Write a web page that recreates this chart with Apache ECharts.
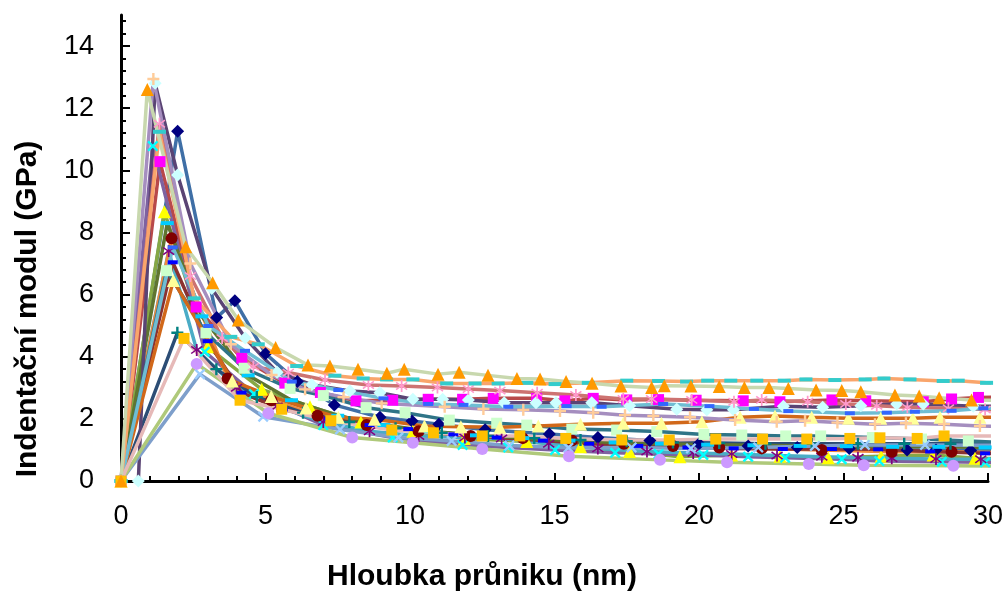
<!DOCTYPE html>
<html>
<head>
<meta charset="utf-8">
<script src="https://cdn.jsdelivr.net/npm/echarts@6/dist/echarts.min.js"></script>
<style>
  html, body { margin: 0; padding: 0; background: #fff; }
  #chart { width: 1007px; height: 595px; }
</style>
</head>
<body>
<div id="chart"></div>
<script>
// Axis titles and tick labels
const xTitle = 'Hloubka průniku (nm)';
const yTitle = 'Indentační modul (GPa)';
const yTickLabels = [0, 2, 4, 6, 8, 10, 12, 14];

// Indentation curves: [depth (nm), modulus (GPa)]
const s01 = [[0,0],[1.96,11.26],[3.31,5.26],[3.94,5.8],[5.0,4.1],[6.1,3.2],[7.38,2.45],[8.96,2.05],[10.07,1.93],[11.0,1.83],[12.6,1.65],[14.82,1.51],[16.5,1.4],[18.3,1.3],[20.0,1.2],[21.7,1.13],[23.4,1.08],[25.2,1.05],[27.2,1.0],[28.2,1.0],[29.4,0.98],[31,0.96]];
const s02 = [[0,0],[1.35,10.28],[2.6,5.6],[4.18,3.95],[5.67,3.15],[6.9,2.85],[8.13,2.58],[9.4,2.6],[10.63,2.63],[11.82,2.63],[12.88,2.66],[14.38,2.66],[15.36,2.58],[16.34,2.66],[17.5,2.61],[18.6,2.62],[19.9,2.6],[21.53,2.58],[22.8,2.55],[24.6,2.61],[25.77,2.58],[27.76,2.55],[28.74,2.64],[29.67,2.69],[31,2.7]];
const s03 = [[0,0],[1.5,8.67],[2.99,4.32],[4.87,2.95],[6.54,2.39],[8.3,1.9],[10.1,1.6],[11.88,1.37],[14.04,1.27],[15.9,1.1],[17.6,0.95],[19.34,0.78],[21.13,0.84],[22.8,0.8],[24.47,0.75],[26.3,0.8],[28.1,0.84],[29.55,0.73],[31,0.72]];
const s04 = [[0,0],[1.1,10.78],[2.9,4.16],[4.6,2.8],[7.0,1.8],[9.4,1.4],[11.82,1.16],[13.4,1.08],[15.02,1.0],[17.1,0.91],[18.6,0.87],[20.15,0.84],[21.7,0.78],[22.98,0.75],[24.94,0.7],[26.24,0.64],[28.4,0.62],[29.9,0.6],[31,0.6]];
const s05 = [[0,0],[1.65,7.4],[2.62,4.22],[4.0,3.0],[5.4,2.4],[7.0,1.9],[8.6,1.6],[10.3,1.45],[11.9,1.4],[13.17,1.37],[14.8,1.2],[16.5,1.05],[18.2,0.95],[19.8,0.9],[21.13,0.87],[22.7,0.82],[24.25,0.78],[25.5,0.75],[26.67,0.73],[28.2,0.71],[29.75,0.7],[31,0.69]];
const s06 = [[0,0],[1.75,7.81],[3.69,3.3],[5.2,2.6],[6.8,2.1],[8.5,1.8],[10.3,1.6],[12.1,1.45],[13.9,1.38],[15.6,1.3],[17.4,1.2],[19.1,1.13],[20.7,1.08],[22.17,1.05],[24.25,1.0],[26.67,0.94],[28.74,0.94],[31,0.9]];
const s07 = [[0,0],[1.95,4.77],[3.3,3.6],[4.7,2.7],[6.3,2.2],[7.9,1.9],[9.5,1.7],[11.1,1.55],[12.7,1.45],[14.3,1.38],[15.9,1.32],[17.5,1.28],[19.1,1.24],[20.7,1.22],[22.3,1.2],[23.9,1.2],[25.5,1.2],[27.1,1.2],[28.7,1.2],[31,1.19]];
const s08 = [[0,0],[1.79,7.04],[3.0,4.5],[4.17,2.84],[5.6,2.3],[7.2,2.0],[8.6,1.8],[9.94,1.67],[11.5,1.5],[13.0,1.4],[14.6,1.3],[16.2,1.2],[17.9,1.13],[19.6,1.08],[21.2,1.05],[22.9,1.03],[24.6,1.03],[26.2,1.02],[28.0,0.95],[29.9,0.89],[31,0.88]];
const s09 = [[0,0],[1.6,8.3],[2.8,5.3],[4.4,3.4],[5.9,2.6],[7.5,2.1],[9.1,1.8],[10.7,1.6],[12.3,1.47],[13.9,1.38],[15.5,1.3],[17.1,1.24],[18.7,1.2],[20.3,1.17],[21.9,1.15],[23.5,1.13],[25.1,1.12],[26.7,1.1],[28.3,1.1],[29.9,1.08],[31,1.07]];
const s10 = [[0.6,0],[1.18,12.8],[1.96,9.85],[3.14,6.2],[4.3,4.6],[5.4,3.5],[6.6,3.1],[7.92,2.9],[8.96,2.84],[10.1,2.63],[11.13,2.63],[12.02,2.61],[13.26,2.52],[14.36,2.52],[15.05,2.52],[16.29,2.52],[17.6,2.42],[19.23,2.31],[20.27,2.29],[21.19,2.29],[22.92,2.41],[24.28,2.37],[25.6,2.42],[26.84,2.48],[27.76,2.48],[29.49,2.41],[31,2.4]];
const s11 = [[0,0],[1.58,6.77],[2.94,4.77],[4.26,3.63],[5.85,2.98],[7.0,2.75],[8.48,2.36],[9.83,2.2],[11.36,1.96],[13.0,1.86],[14.04,1.8],[15.6,1.67],[17.15,1.64],[18.54,1.59],[20.17,1.5],[21.48,1.48],[23.0,1.45],[24.21,1.45],[26.0,1.4],[27.7,1.35],[29.32,1.29],[31,1.22]];
const s12 = [[0,0],[1.81,6.45],[3.85,3.22],[5.2,2.72],[6.4,2.35],[7.52,2.05],[8.77,1.99],[10.5,1.77],[11.76,1.75],[13.11,1.73],[14.44,1.77],[15.9,1.83],[17.38,1.86],[18.7,1.86],[20.1,1.91],[21.42,2.05],[22.63,2.09],[23.9,2.05],[25.17,2.02],[26.29,2.02],[27.4,2.02],[28.34,2.05],[29.72,2.05],[31,2.06]];
const s13 = [[0,0],[2.73,3.44],[4.92,2.07],[7.58,1.66],[9.6,1.4],[11.44,1.29],[13.44,1.14],[15.48,1.07],[17.67,1.08],[19.72,1.05],[22.05,1.08],[24.01,1.13],[25.74,1.16],[27.82,1.16],[30.2,1.15]];
const s14 = [[0,0],[1.33,11.5],[2.4,6.6],[3.5,4.6],[4.58,3.68],[5.79,3.49],[7.06,3.25],[8.56,3.09],[9.71,3.06],[10.95,3.01],[12.02,2.96],[13.11,2.91],[14.4,2.84],[15.74,2.77],[17.38,2.64],[18.36,2.64],[19.75,2.61],[21.21,2.55],[22.17,2.61],[23.76,2.55],[25.08,2.48],[26.15,2.42],[27.21,2.37],[28.63,2.34],[29.9,2.3],[31,2.28]];
const s15 = [[0,0],[2.62,3.77],[5.1,2.18],[8.0,1.4],[10.1,1.23],[12.5,1.03],[15.5,0.8],[18.65,0.68],[20.97,0.6],[23.8,0.55],[25.7,0.51],[28.8,0.49],[31.5,0.47]];
const s16 = [[0,0],[1.12,12.94],[2.4,7.0],[3.8,4.4],[5.21,3.41],[6.37,2.95],[7.7,2.7],[9.02,2.5],[11.2,2.39],[12.54,2.32],[13.92,2.29],[15.19,2.25],[16.34,2.2],[17.44,2.12],[18.42,2.09],[19.69,2.05],[21.25,1.96],[22.69,1.91],[23.67,1.94],[24.79,1.88],[26.09,1.83],[27.16,1.86],[28.48,1.83],[29.72,1.77],[31,1.75]];
const s17 = [[0,0],[1.79,7.52],[3.02,4.99],[4.29,4.19],[5.91,3.2],[7.52,2.93],[9.08,2.66],[10.63,2.48],[11.85,2.45],[13.4,2.39],[15.42,2.41],[16.63,2.39],[18.76,2.48],[20.36,2.41],[21.9,2.32],[23.09,2.25],[25.22,2.18],[26.5,2.2],[27.47,2.23],[28.74,2.26],[29.84,2.34],[31,2.35]];
const s18 = [[0,0],[1.33,11.24],[2.53,5.88],[3.8,4.64],[4.75,4.4],[6.08,3.7],[7.4,3.39],[8.38,3.3],[9.19,3.27],[10.1,3.27],[11.27,3.14],[12.25,3.14],[13.05,3.14],[14.04,3.16],[15.02,3.12],[16.17,3.16],[17.5,3.23],[18.6,3.22],[19.57,3.2],[20.3,3.23],[21.1,3.23],[22.0,3.23],[22.95,3.23],[23.7,3.27],[24.7,3.25],[25.75,3.27],[26.4,3.3],[27.3,3.27],[28.45,3.22],[28.97,3.23],[29.95,3.16],[31,3.14]];
const s20 = [[0,0],[2.18,4.59],[4.12,2.6],[5.56,2.31],[7.26,1.94],[9.37,1.64],[10.81,1.55],[12.5,1.45],[13.8,1.45],[15.39,1.37],[17.33,1.32],[18.97,1.32],[20.58,1.35],[22.2,1.35],[23.73,1.35],[25.22,1.37],[26.26,1.39],[27.55,1.37],[28.48,1.45],[30.2,1.45]];
const s21 = [[0,0],[0.91,12.6],[2.24,7.54],[3.17,6.38],[4.06,5.18],[5.35,4.3],[6.47,3.73],[7.23,3.7],[8.2,3.6],[9.2,3.47],[9.8,3.6],[10.97,3.44],[11.7,3.5],[12.7,3.4],[13.7,3.3],[14.5,3.28],[15.4,3.2],[16.3,3.15],[17.3,3.06],[18.36,3.01],[18.8,3.07],[19.72,3.06],[20.7,3.04],[21.57,3.01],[22.42,3.01],[23.09,2.98],[24.05,2.93],[24.94,2.91],[25.6,2.87],[26.78,2.77],[27.62,2.74],[28.31,2.68],[29.43,2.61],[31,2.58]];

const curves = [s01,s02,s03,s04,s05,s06,s07,s08,s09,s10,s11,s12,s13,s14,s15,s16,s17,s18,s20,s21];

// Styling per curve (line colour, marker colour, marker kind)
const lineColors = ['#3F6FA6','#B8494A','#86A845','#7E62A0','#4BACC6','#F08A3E','#2C4D75','#8A3230','#5F7530','#5A4474',
                    '#2F7487','#D1681A','#7E9FCB','#CD7371','#AFC97A','#A58EBF','#6FBDD3','#F9A56B','#E6B9B8','#C8D8AE'];
const markerColors = ['#000080','#FF00FF','#FFFF00','#00FFFF','#800080','#800000','#008080','#0000FF','#00CCFF','#CCFFFF',
                      '#CCFFCC','#FFFF99','#99CCFF','#FF99CC','#CC99FF','#FFCC99','#3366FF','#33CCCC','#FFC000','#FF9900'];
const markerKinds = ['diamond','square','triangle','x','star','circle','plus','dash','longdash','diamond',
                     'square','triangle','x','star','circle','plus','dash','longdash','square','triangle'];

const SYMBOLS = {
  diamond:  { symbol: 'diamond', size: 13 },
  square:   { symbol: 'rect', size: 11 },
  triangle: { symbol: 'triangle', size: 13 },
  circle:   { symbol: 'circle', size: 12 },
  x:        { symbol: 'path://M1.5,0L5,3.5L8.5,0L10,1.5L6.5,5L10,8.5L8.5,10L5,6.5L1.5,10L0,8.5L3.5,5L0,1.5Z', size: 11 },
  plus:     { symbol: 'path://M4,0H6V4H10V6H6V10H4V6H0V4H4Z', size: 12 },
  star:     { symbol: 'path://M1,1.5L4.3,4.1L4.3,0H5.7V4.1L9,1.5L9.8,2.5L6.4,5L9.8,7.5L9,8.5L5.7,5.9V10H4.3V5.9L1,8.5L0.2,7.5L3.6,5L0.2,2.5Z', size: 12 },
  dash:     { symbol: 'rect', size: [10, 4] },
  longdash: { symbol: 'rect', size: [13, 4] }
};

const FONT = '"Liberation Sans", Arial, sans-serif';

const minorYTicks = [];
for (let v = 0.4; v < 15; v += 0.4) minorYTicks.push(Math.round(v * 10) / 10);

const series = curves.map((data, i) => {
  const m = SYMBOLS[markerKinds[i]];
  return {
    type: 'line',
    data: data,
    symbol: m.symbol,
    symbolSize: m.size,
    showSymbol: true,
    clip: true,
    lineStyle: { color: lineColors[i], width: 3.5 },
    itemStyle: { color: markerColors[i], borderWidth: 0 },
    emphasis: { disabled: true },
    z: 2
  };
});

const chart = echarts.init(document.getElementById('chart'), null, { renderer: 'canvas' });
chart.setOption({
  animation: false,
  backgroundColor: '#ffffff',
  grid: { left: 121, right: 19, top: 15, bottom: 114, containLabel: false },
  xAxis: {
    type: 'value', min: 0, max: 30, interval: 5,
    axisLine: { show: true, lineStyle: { color: '#000', width: 3 } },
    axisTick: { show: true, inside: true, length: 8, lineStyle: { color: '#000', width: 2 } },
    minorTick: { show: true, splitNumber: 5, length: 5, lineStyle: { color: '#000', width: 2 } },
    axisLabel: { color: '#000', fontSize: 27, fontFamily: FONT, margin: 22 },
    splitLine: { show: false }
  },
  yAxis: [{
    type: 'value', min: 0, max: 15, interval: 2,
    axisLine: { show: true, lineStyle: { color: '#000', width: 3 } },
    axisTick: { show: true, inside: true, length: 9, customValues: yTickLabels, lineStyle: { color: '#000', width: 2 } },
    axisLabel: { color: '#000', fontSize: 27, fontFamily: FONT, margin: 27, customValues: yTickLabels },
    splitLine: { show: false }
  }, {
    type: 'value', min: 0, max: 15, interval: 0.4, position: 'left',
    axisLine: { show: false },
    axisTick: { show: true, inside: true, length: 5, customValues: minorYTicks, lineStyle: { color: '#000', width: 2 } },
    axisLabel: { show: false },
    splitLine: { show: false }
  }],
  graphic: [
    { type: 'text', x: 28, y: 309, rotation: Math.PI / 2,
      style: { text: yTitle, font: 'bold 30px ' + FONT, fill: '#000', align: 'center', verticalAlign: 'middle' } },
    { type: 'text', x: 482, y: 577,
      style: { text: xTitle, font: 'bold 30px ' + FONT, fill: '#000', align: 'center', verticalAlign: 'middle' } }
  ],
  series: series
});
</script>
</body>
</html>
